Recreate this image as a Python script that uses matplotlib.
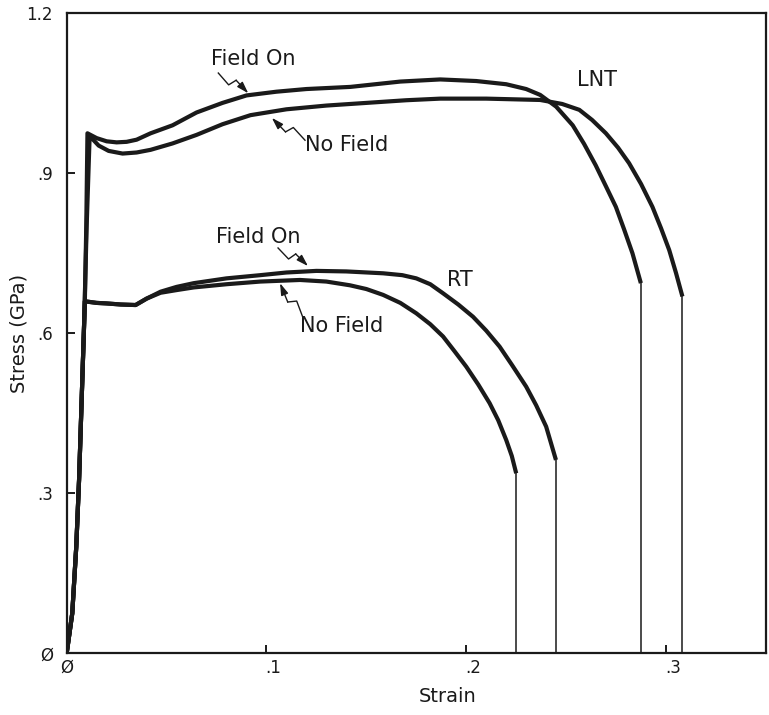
import numpy as np
import matplotlib
matplotlib.use("Agg")
import matplotlib.pyplot as plt
from matplotlib.transforms import ScaledTranslation

# ---------------- data ----------------
lnt_on_strain = [0, 0.0028, 0.0048, 0.0062, 0.0078, 0.0091, 0.0098, 0.0104,
                 0.015, 0.020, 0.025, 0.030, 0.035, 0.042, 0.053, 0.065, 0.078,
                 0.090, 0.105, 0.120, 0.142, 0.167, 0.187, 0.205, 0.220, 0.230,
                 0.237, 0.245, 0.2533, 0.259, 0.2648, 0.270, 0.2749, 0.279,
                 0.2832, 0.2874]
lnt_on_stress = [0, 0.075, 0.20, 0.325, 0.51, 0.66, 0.80, 0.975,
                 0.966, 0.960, 0.958, 0.959, 0.963, 0.975, 0.990, 1.014, 1.032,
                 1.046, 1.053, 1.058, 1.062, 1.072, 1.076, 1.073, 1.067, 1.058,
                 1.047, 1.025, 0.990, 0.955, 0.915, 0.875, 0.837, 0.795,
                 0.750, 0.694]

lnt_off_strain = [0, 0.0028, 0.0048, 0.0062, 0.0078, 0.0086, 0.0100, 0.0115,
                  0.016, 0.021, 0.028, 0.035, 0.042, 0.053, 0.065, 0.078, 0.092,
                  0.110, 0.130, 0.150, 0.170, 0.187, 0.210, 0.237, 0.248, 0.2566,
                  0.263, 0.2699, 0.276, 0.2815, 0.2875, 0.2932, 0.2975, 0.3016,
                  0.305, 0.3082]
lnt_off_stress = [0, 0.075, 0.20, 0.325, 0.51, 0.60, 0.80, 0.970,
                  0.952, 0.942, 0.937, 0.939, 0.944, 0.956, 0.972, 0.992, 1.009,
                  1.020, 1.027, 1.032, 1.037, 1.040, 1.040, 1.0375, 1.030, 1.019,
                  1.000, 0.975, 0.948, 0.919, 0.880, 0.837, 0.797, 0.756,
                  0.713, 0.669]

rt_on_strain = [0, 0.0028, 0.0048, 0.0062, 0.0078, 0.0091, 0.015, 0.020, 0.027,
                0.0345, 0.040, 0.047, 0.055, 0.0636, 0.080, 0.0969, 0.110, 0.125,
                0.140, 0.1584, 0.168, 0.175, 0.182, 0.1884, 0.196, 0.2034, 0.210,
                0.2167, 0.223, 0.230, 0.235, 0.240, 0.2449]
rt_on_stress = [0, 0.075, 0.20, 0.325, 0.51, 0.66, 0.657, 0.656, 0.654,
                0.653, 0.665, 0.678, 0.687, 0.694, 0.703, 0.709, 0.714, 0.717,
                0.716, 0.7125, 0.709, 0.703, 0.692, 0.675, 0.654, 0.631, 0.605,
                0.575, 0.540, 0.500, 0.465, 0.425, 0.3625]

rt_off_strain = [0, 0.0028, 0.0048, 0.0062, 0.0078, 0.0091, 0.015, 0.020, 0.027,
                 0.0345, 0.040, 0.047, 0.055, 0.0636, 0.080, 0.0969, 0.1168, 0.130,
                 0.1418, 0.150, 0.1584, 0.167, 0.175, 0.182, 0.1884, 0.194, 0.200,
                 0.206, 0.2117, 0.216, 0.220, 0.2228, 0.225]
rt_off_stress = [0, 0.075, 0.20, 0.325, 0.51, 0.66, 0.657, 0.656, 0.654,
                 0.653, 0.665, 0.676, 0.681, 0.686, 0.692, 0.697, 0.700, 0.697,
                 0.690, 0.683, 0.672, 0.657, 0.6375, 0.617, 0.594, 0.567, 0.5375,
                 0.504, 0.469, 0.437, 0.400, 0.370, 0.3375]

x_ticks = [0, 0.1, 0.2, 0.3]
x_tick_labels = ["Ø", ".1", ".2", ".3"]
y_ticks = [0, 0.3, 0.6, 0.9, 1.2]
y_tick_labels = ["Ø", ".3", ".6", ".9", "1.2"]

# ---------------- figure ----------------
plt.rcParams['font.family'] = ['DejaVu Sans']
fig = plt.figure(figsize=(7.69, 7.15), dpi=100)
ax = fig.add_axes([0.0867, 0.0863, 0.9093, 0.8951])
ax.set_xlim(0, 0.35)
ax.set_ylim(0, 1.2)

ink = "#1a1a1a"
for xs, ys in [(lnt_on_strain, lnt_on_stress), (lnt_off_strain, lnt_off_stress),
               (rt_on_strain, rt_on_stress), (rt_off_strain, rt_off_stress)]:
    ax.plot(xs, ys, color=ink, lw=3.0, solid_capstyle='butt', solid_joinstyle='round')
    ax.plot([xs[-1], xs[-1]], [ys[-1], 0], color=ink, lw=1.1)

for s in ax.spines.values():
    s.set_linewidth(1.6)
    s.set_color(ink)

ax.set_xticks(x_ticks)
ax.set_xticklabels(x_tick_labels)
ax.set_yticks(y_ticks)
ax.set_yticklabels(y_tick_labels)
ax.tick_params(axis='both', direction='in', length=6, width=1.4, colors=ink,
               labelsize=12)
ax.tick_params(axis='x', pad=4)
ax.tick_params(axis='y', pad=10)
off = ScaledTranslation(5 / 72, 0, fig.dpi_scale_trans)
for lab in ax.get_xticklabels()[1:]:
    lab.set_transform(lab.get_transform() + off)

ax.set_xlabel("Strain", fontsize=14, color=ink)
ax.xaxis.set_label_coords(0.545, -0.052)
ax.set_ylabel("Stress (GPa)", fontsize=14, color=ink)
ax.yaxis.set_label_coords(-0.055, 0.5)

# ---------------- annotations ----------------
def bolt_arrow(tail, head):
    t = ax.transData.transform(tail)
    h = ax.transData.transform(head)
    d = h - t
    L = np.hypot(*d)
    u = d / L
    n = np.array([-u[1], u[0]])
    p1 = t + 0.42 * d - n * 4
    p2 = t + 0.52 * d + n * 4
    inv = ax.transData.inverted()
    pts = inv.transform(np.vstack([t, p1, p2]))
    ax.plot(pts[:, 0], pts[:, 1], color=ink, lw=1.0)
    ax.annotate("", xy=head, xytext=tuple(pts[2]),
                arrowprops=dict(arrowstyle='-|>,head_length=0.7,head_width=0.22',
                                color=ink, lw=1.0, shrinkA=0, shrinkB=0))

txt = dict(fontsize=15, color=ink, ha='center', va='center')
ax.text(0.0934, 1.114, "Field On", **txt)
bolt_arrow((0.0759, 1.088), (0.0909, 1.050))
ax.text(0.1403, 0.953, "No Field", **txt)
bolt_arrow((0.1193, 0.962), (0.1027, 1.004))
ax.text(0.0959, 0.781, "Field On", **txt)
bolt_arrow((0.1058, 0.760), (0.1208, 0.726))
ax.text(0.1378, 0.614, "No Field", **txt)
bolt_arrow((0.1183, 0.629), (0.1068, 0.694))
ax.text(0.2656, 1.075, "LNT", **txt)
ax.text(0.1967, 0.700, "RT", **txt)

fig.savefig("out.png", dpi=100, facecolor='white')
